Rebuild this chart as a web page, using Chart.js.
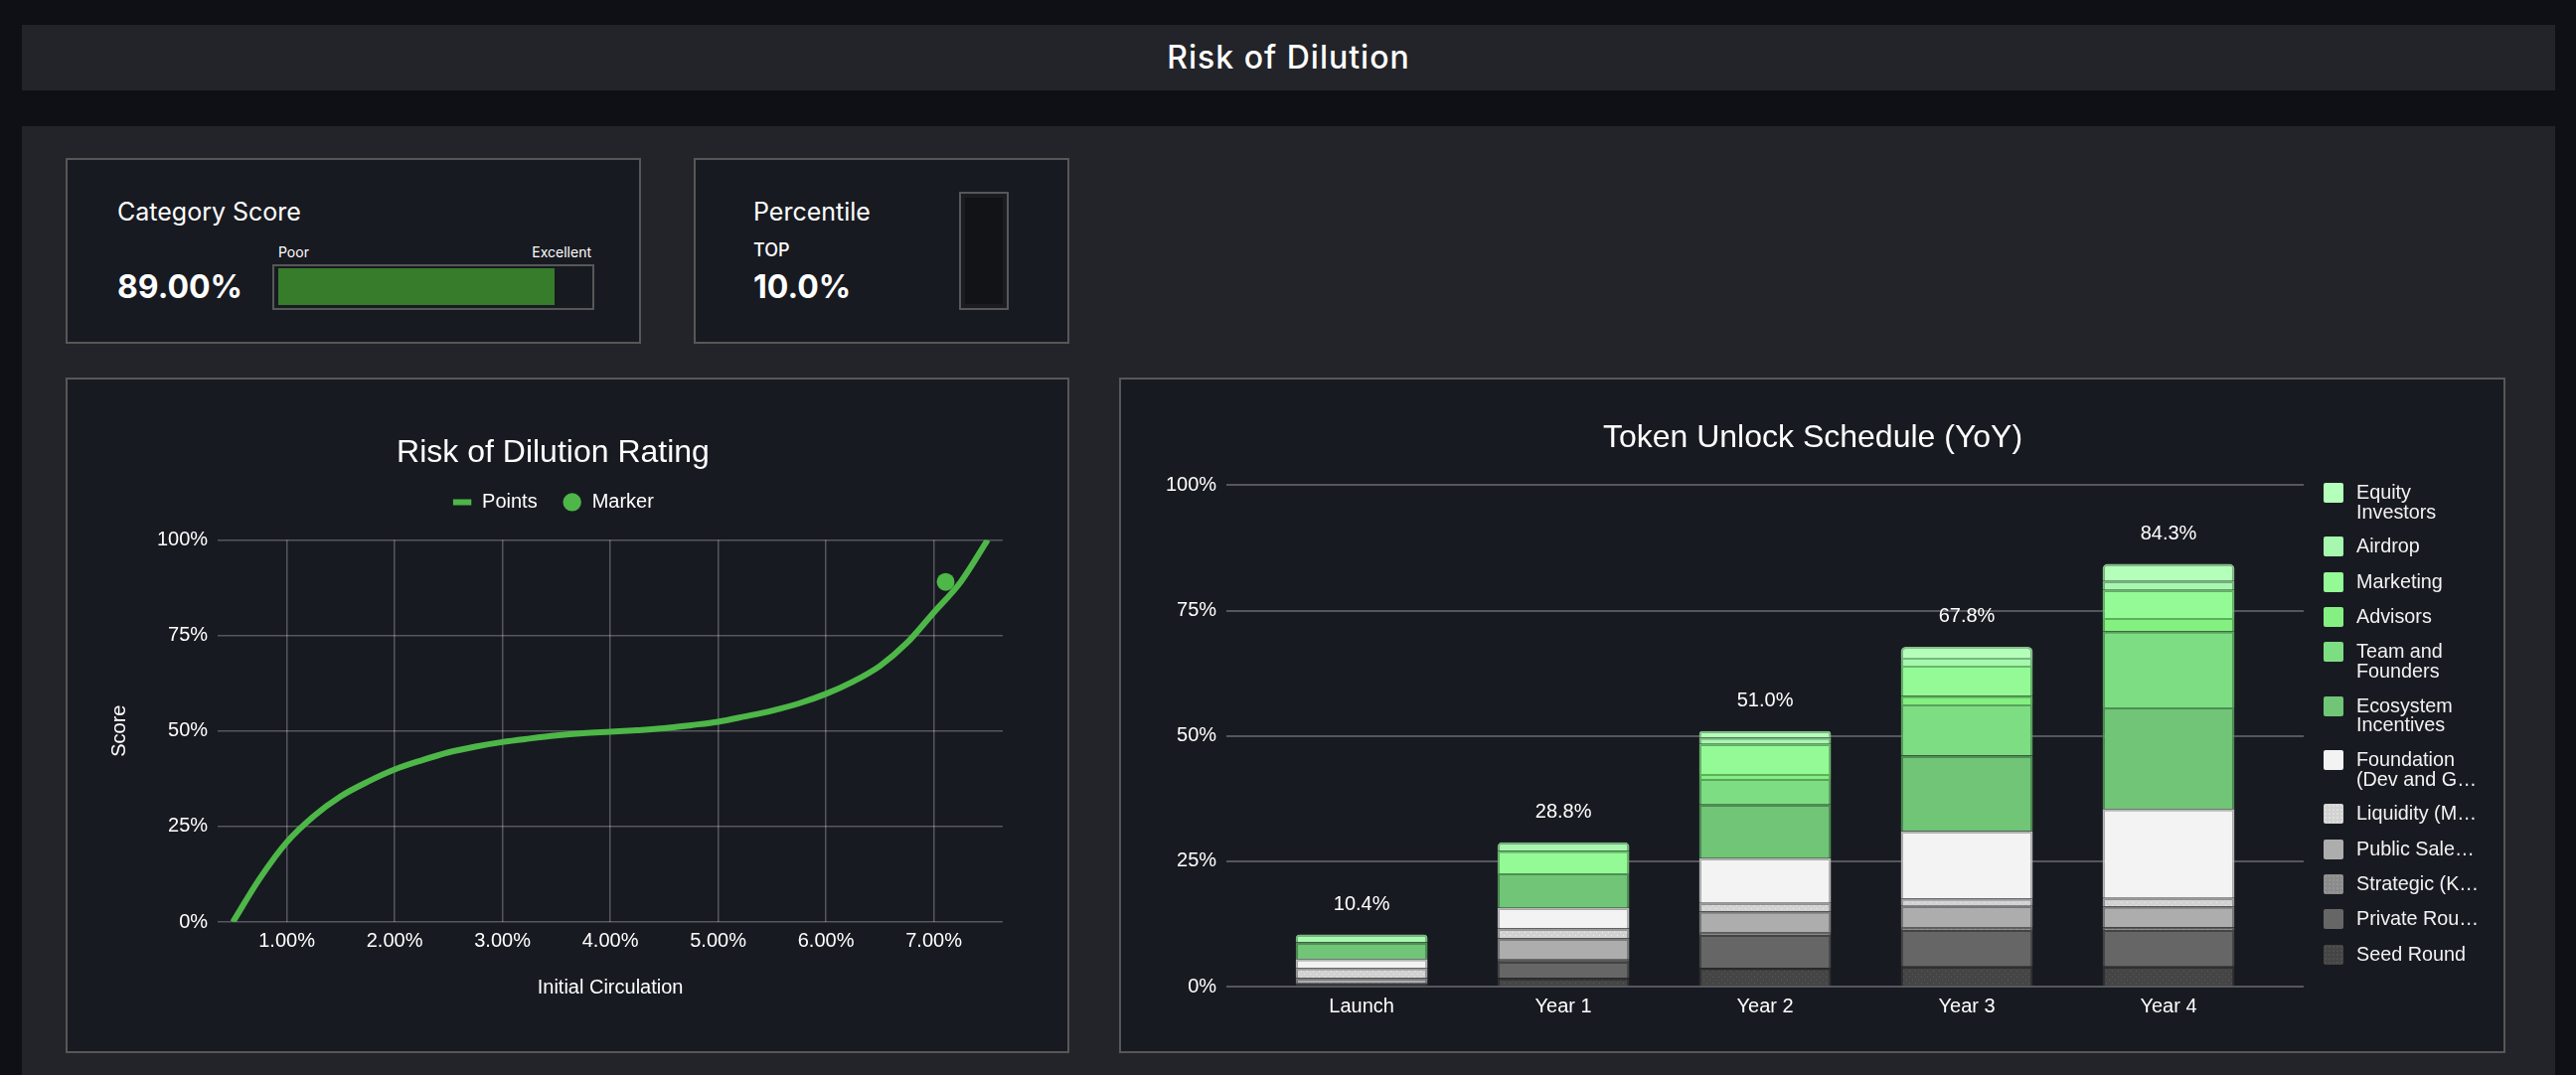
<!DOCTYPE html>
<html>
<head>
<meta charset="utf-8">
<title>Risk of Dilution</title>
<script src="https://cdn.jsdelivr.net/npm/chart.js@4.4.1/dist/chart.umd.min.js"></script>
<style>
  html, body { margin: 0; padding: 0; }
  body {
    width: 2592px; height: 1082px; position: relative; overflow: hidden;
    background: #0f1015; color: #fff;
    font-family: Inter, "Liberation Sans", Arial, sans-serif;
  }
  .abs { position: absolute; }
  .txt { position: absolute; line-height: 1; white-space: nowrap; }
  #header { left: 22px; top: 25px; width: 2549px; height: 66px; background: #232429; }
  #header h1 { margin: 0; font-size: 32px; font-weight: 500; letter-spacing: 1px; line-height: 66px; text-align: center; }
  #panel { left: 22px; top: 127px; width: 2549px; height: 955px; background: #232429; }
  .card { position: absolute; background: #181a21; border: 2px solid #575757; box-sizing: border-box; }
  #legend { position: absolute; left: 2338px; top: 486px; font-family: "Liberation Sans", Arial, sans-serif; }
  .item { display: flex; align-items: flex-start; margin-bottom: 15.3px; }
  .box { width: 20px; height: 20px; border-radius: 2px; margin-right: 13px; flex: none; }
  .lbl { font-size: 19.8px; line-height: 19.55px; color: #f2f2f2; white-space: pre; }
</style>
</head>
<body>
<div id="header" class="abs"><h1>Risk of Dilution</h1></div>
<div id="panel" class="abs"></div>

<div class="card" style="left:66px; top:159px; width:579px; height:187px;"></div>
<div class="txt" style="left:118px; top:201px; font-size:25px;">Category Score</div>
<div class="txt" id="scoreText" style="left:118px; top:273px; font-size:32px; font-weight:700;"></div>
<div class="txt" style="left:280px; top:247px; font-size:14px;">Poor</div>
<div class="txt" style="right:1997px; top:247px; font-size:14px;">Excellent</div>
<div class="abs" style="left:274px; top:266px; width:324px; height:46px; border:2px solid #575757; box-sizing:border-box;"></div>
<div class="abs" id="scoreFill" style="left:280px; top:270px; height:37px; background:#367c2b;"></div>

<div class="card" style="left:698px; top:159px; width:378px; height:187px;"></div>
<div class="txt" style="left:758px; top:201px; font-size:25px;">Percentile</div>
<div class="txt" style="left:758px; top:243px; font-size:18px; font-weight:500;">TOP</div>
<div class="txt" id="pctText" style="left:758px; top:273px; font-size:32px; font-weight:700;"></div>
<div class="abs" style="left:965px; top:193px; width:50px; height:119px; border:2px solid #575757; box-sizing:border-box; background:#1a1c22;"></div>
<div class="abs" style="left:971px; top:199px; width:38px; height:107px; background:#111317;"></div>

<div class="card" style="left:66px; top:380px; width:1010px; height:680px;"></div>
<canvas id="ratingChart" class="abs" style="left:68px; top:382px;" width="1006" height="676"></canvas>

<div class="card" style="left:1126px; top:380px; width:1395px; height:680px;"></div>
<canvas id="unlockChart" class="abs" style="left:1128px; top:382px;" width="1391" height="676"></canvas>
<div id="legend"></div>

<script>
// score cards
const categoryScore = 89.0;
const percentileTop = 10.0;

// rating curve (initial circulation %, score %)
const circulation = [0.5, 0.75, 1, 1.25, 1.5, 1.75, 2, 2.25, 2.5, 2.75, 3, 3.25, 3.5, 3.75, 4,
  4.25, 4.5, 4.75, 5, 5.25, 5.5, 5.75, 6, 6.25, 6.5, 6.75, 7, 7.25, 7.5];
const curveScore = [0, 11.4, 20.9, 27.7, 32.9, 36.7, 39.9, 42.3, 44.4, 45.9, 47.1, 48.0, 48.8, 49.4, 49.8,
  50.2, 50.7, 51.5, 52.4, 53.8, 55.3, 57.2, 59.7, 62.9, 67.0, 73.0, 81.0, 89.0, 100];
const markerCirculation = 7.11;
const markerScore = 89.0;

// token unlock schedule, % of supply per allocation
const periods = ['Launch', 'Year 1', 'Year 2', 'Year 3', 'Year 4'];
const seedRound   = [0.3, 1.7, 3.7, 4.0, 4.0];
const privateRound = [0.3, 3.3, 6.6, 7.3, 7.3];
const strategic   = [0.2, 0.4, 0.6, 0.6, 0.5];
const publicSale  = [0.9, 4.2, 4.1, 4.2, 4.2];
const liquidity   = [2.0, 2.0, 1.7, 1.5, 1.7];
const foundation  = [1.8, 4.1, 8.9, 13.4, 17.7];
const ecosystem   = [3.3, 6.9, 10.7, 15.1, 20.3];
const team        = [0, 0, 5.1, 10.2, 15.2];
const advisors    = [0, 0, 1.0, 1.7, 2.6];
const marketing   = [0, 4.5, 6.0, 6.0, 5.6];
const airdrop     = [1.6, 1.7, 1.3, 1.6, 1.8];
const equity      = [0, 0, 1.3, 2.2, 3.4];

const seriesLabels = ['Seed Round', 'Private Rou\u2026', 'Strategic (K\u2026', 'Public Sale\u2026',
  'Liquidity (M\u2026', 'Foundation\n(Dev and G\u2026', 'Ecosystem\nIncentives', 'Team and\nFounders',
  'Advisors', 'Marketing', 'Airdrop', 'Equity\nInvestors'];
const seriesValues = [seedRound, privateRound, strategic, publicSale, liquidity, foundation,
  ecosystem, team, advisors, marketing, airdrop, equity];
const seriesColors = ['#454545', '#666666', '#8b8b8b', '#adadad', '#d2d2d2', '#f3f3f3',
  '#70c577', '#7ddd83', '#84f081', '#94fa96', '#a6f8ae', '#b4ffba'];
const seriesBorders = ['#2e2e2e', '#444444', '#5e5e5e', '#7a7a7a', '#9a9a9a', '#b8b8b8',
  '#4d8f52', '#58a35d', '#5cb15a', '#68b86a', '#79b880', '#86c08b'];
const dottedSeries = ['#5a5a5a', null, '#a2a2a2', null, '#ececec', null, null, null, null, null, null, null];

document.getElementById('scoreText').textContent = categoryScore.toFixed(2) + '%';
document.getElementById('pctText').textContent = percentileTop.toFixed(1) + '%';
document.getElementById('scoreFill').style.width = (312 * categoryScore / 100) + 'px';

Chart.defaults.font.family = '"Liberation Sans", Arial, sans-serif';
Chart.defaults.font.size = 20;
Chart.defaults.color = '#ffffff';

const gridColor = 'rgba(255,255,255,0.27)';

// extra room under the legend of the rating chart
const legendGap = {
  id: 'legendGap',
  beforeInit(chart) {
    const fit = chart.legend.fit;
    chart.legend.fit = function () {
      fit.call(this);
      this.height += 18;
    };
  }
};

new Chart('ratingChart', {
  type: 'line',
  data: {
    datasets: [{
      label: 'Points',
      data: circulation.map((c, i) => ({ x: c, y: curveScore[i] })),
      borderColor: '#4db748',
      backgroundColor: '#4db748',
      borderWidth: 6,
      pointRadius: 0,
      pointStyle: 'line',
      cubicInterpolationMode: 'monotone'
    }, {
      label: 'Marker',
      data: [{ x: markerCirculation, y: markerScore }],
      showLine: false,
      pointStyle: 'circle',
      pointRadius: 9,
      borderWidth: 0,
      backgroundColor: '#4db748',
      borderColor: '#4db748'
    }]
  },
  options: {
    responsive: false,
    animation: false,
    layout: { padding: { top: 45, left: 36, right: 65, bottom: 48 } },
    plugins: {
      title: { display: true, text: 'Risk of Dilution Rating', font: { size: 32, weight: 'normal' },
        color: '#fff', padding: { top: 10, bottom: -5 } },
      legend: { labels: { usePointStyle: true, boxHeight: 13, padding: 25, color: '#fff' } },
      tooltip: { enabled: false }
    },
    scales: {
      x: {
        type: 'linear', min: 0.36, max: 7.64,
        ticks: { stepSize: 1, includeBounds: false, padding: 7, color: '#fff',
          callback: v => v.toFixed(2) + '%' },
        grid: { color: gridColor, lineWidth: 1.5, drawTicks: false },
        border: { display: false },
        title: { display: true, text: 'Initial Circulation', color: '#fff', padding: { top: 16, bottom: 4 } }
      },
      y: {
        min: 0, max: 100,
        ticks: { stepSize: 25, padding: 10, color: '#fff', callback: v => v + '%' },
        grid: { color: gridColor, lineWidth: 1.5, drawTicks: false },
        border: { display: false },
        title: { display: true, text: 'Score', color: '#fff', padding: { top: 4, bottom: 16 } }
      }
    }
  },
  plugins: [legendGap]
});

function dots(bg, dot) {
  const c = document.createElement('canvas');
  c.width = 6; c.height = 6;
  const g = c.getContext('2d');
  g.fillStyle = bg; g.fillRect(0, 0, 6, 6);
  g.fillStyle = dot; g.fillRect(1, 1, 1, 1); g.fillRect(4, 4, 1, 1);
  return g.createPattern(c, 'repeat');
}

const totalLabels = {
  id: 'totalLabels',
  afterDatasetsDraw(chart) {
    const { ctx, scales: { x, y } } = chart;
    ctx.save();
    ctx.font = '20px "Liberation Sans", Arial, sans-serif';
    ctx.fillStyle = '#ffffff';
    ctx.textAlign = 'center';
    ctx.textBaseline = 'middle';
    periods.forEach((p, i) => {
      const total = seriesValues.reduce((s, arr) => s + arr[i], 0);
      ctx.fillText(total.toFixed(1) + '%', x.getPixelForValue(i), y.getPixelForValue(total) - 30);
    });
    ctx.restore();
  }
};

new Chart('unlockChart', {
  type: 'bar',
  data: {
    datasets: seriesLabels.map((label, k) => ({
      label: label,
      data: seriesValues[k].map((v, i) => ({ x: i, y: v })),
      backgroundColor: dottedSeries[k] ? dots(seriesColors[k], dottedSeries[k]) : seriesColors[k],
      borderColor: seriesBorders[k],
      borderWidth: 2,
      borderRadius: 5,
      borderSkipped: 'start',
      categoryPercentage: 0.8,
      barPercentage: 0.818
    }))
  },
  options: {
    responsive: false,
    animation: false,
    layout: { padding: { top: 30, left: 35, right: 34, bottom: 25 } },
    plugins: {
      title: { display: true, text: 'Token Unlock Schedule (YoY)', font: { size: 32, weight: 'normal' },
        color: '#fff', padding: { top: 10, bottom: 28 } },
      legend: { display: false },
      tooltip: { enabled: false }
    },
    scales: {
      x: {
        type: 'linear', stacked: true, offset: false, min: -0.67, max: 4.67,
        ticks: { stepSize: 1, includeBounds: false, padding: 8, color: '#fff',
          callback: v => periods[v] },
        grid: { display: false, drawTicks: false },
        border: { display: false }
      },
      y: {
        stacked: true, min: 0, max: 100,
        ticks: { stepSize: 25, padding: 10, color: '#fff', callback: v => v + '%' },
        grid: { color: gridColor, lineWidth: 2, drawTicks: false },
        border: { display: false }
      },
      spacer: {
        type: 'linear', position: 'right', display: true,
        grid: { display: false, drawTicks: false }, border: { display: false }, ticks: { display: false },
        afterFit(s) { s.width = 167; }
      }
    }
  },
  plugins: [totalLabels]
});

// legend, top of stack first
const legend = document.getElementById('legend');
for (let k = seriesLabels.length - 1; k >= 0; k--) {
  const item = document.createElement('div');
  item.className = 'item';
  const box = document.createElement('div');
  box.className = 'box';
  box.style.background = seriesColors[k];
  if (dottedSeries[k]) {
    box.style.backgroundImage = 'radial-gradient(' + dottedSeries[k] + ' 0.6px, transparent 0.8px)';
    box.style.backgroundSize = '4px 4px';
  }
  const txt = document.createElement('div');
  txt.className = 'lbl';
  txt.textContent = seriesLabels[k];
  item.appendChild(box);
  item.appendChild(txt);
  legend.appendChild(item);
}
</script>
</body>
</html>
